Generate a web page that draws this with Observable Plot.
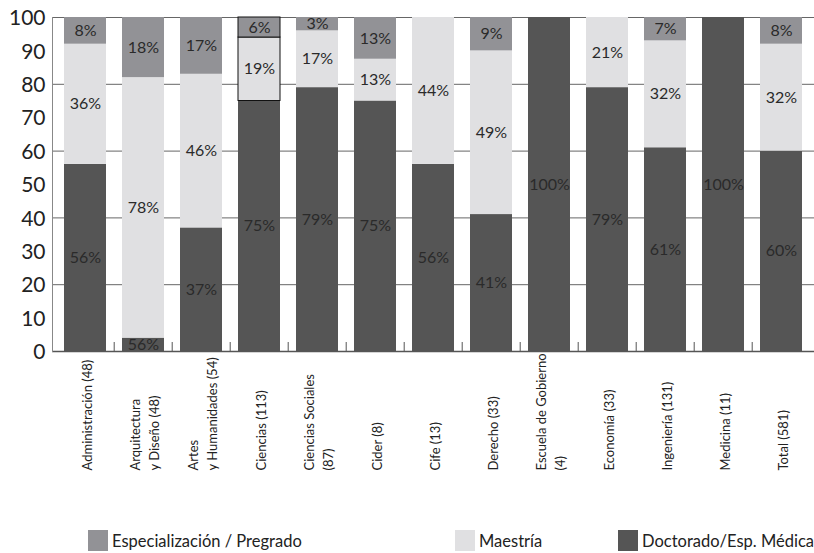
<!DOCTYPE html>
<html>
<head>
<meta charset="utf-8">
<script src="https://cdn.jsdelivr.net/npm/d3@7"></script>
<script src="https://cdn.jsdelivr.net/npm/@observablehq/plot@0.6"></script>
<style>
  body { margin: 0; background: #fff; font-family: Lato, "Open Sans", sans-serif; }
  #chart { position: relative; width: 814px; height: 553px; }
  #legend { position: relative; width: 814px; height: 38px; font-size: 16.5px; color: #222; }
  .item { position: absolute; top: 15px; display: flex; align-items: center; white-space: nowrap; }
  .sw { width: 20px; height: 21px; margin-right: 4px; flex: none; }
</style>
</head>
<body>
<div id="chart"></div>
<script>
const categorias = ["Administración (48)", "Arquitectura\ny Diseño (48)", "Artes\ny Humanidades (54)", "Ciencias (113)", "Ciencias Sociales\n(87)", "Cider (8)", "Cife (13)", "Derecho (33)", "Escuela de Gobierno\n(4)", "Economía (33)", "Ingeniería (131)", "Medicina (11)", "Total (581)"];
const series = ["Doctorado/Esp. Médica", "Maestría", "Especialización / Pregrado"];
const colores = ["#555555", "#e0e0e2", "#929296"];
const doctorado = [56, 4, 37, 75, 79, 75, 56, 41, 100, 79, 61, 100, 60];
const maestria = [36, 78, 46, 19, 17, 12.5, 44, 49, 0, 21, 32, 0, 32];
const especializacion = [8, 18, 17, 6, 4, 12.5, 0, 10, 0, 0, 7, 0, 8];
const etiquetasDoctorado = ["56%", "56%", "37%", "75%", "79%", "75%", "56%", "41%", "100%", "79%", "61%", "100%", "60%"];
const etiquetasMaestria = ["36%", "78%", "46%", "19%", "17%", "13%", "44%", "49%", "", "21%", "32%", "", "32%"];
const etiquetasEspecializacion = ["8%", "18%", "17%", "6%", "3%", "13%", "", "9%", "", "", "7%", "", "8%"];
const ticksY = [0, 10, 20, 30, 40, 50, 60, 70, 80, 90, 100];
const gridY = [20, 40, 60, 80, 100];

const valores = [doctorado, maestria, especializacion];
const etiquetas = [etiquetasDoctorado, etiquetasMaestria, etiquetasEspecializacion];
const datos = [];
series.forEach((s, si) => {
  categorias.forEach((c, ci) => {
    datos.push({categoria: c, serie: s, valor: valores[si][ci], etiqueta: etiquetas[si][ci], resaltado: c === "Ciencias (113)" && si > 0});
  });
});

const W = 814, H = 515, mL = 52, mR = 0, mT = 17, mB = 164;
const paso = (W - mL - mR) / categorias.length;
const plotH = H - mT - mB;

const chart = Plot.plot({
  width: W, height: H,
  marginLeft: mL, marginRight: mR, marginTop: mT, marginBottom: mB,
  style: {fontFamily: "Lato, 'Open Sans', sans-serif", color: "#222", background: "#fff"},
  x: {domain: categorias, paddingInner: 0.27, paddingOuter: 0.135, axis: null},
  y: {domain: [0, 100], axis: null},
  color: {domain: series, range: colores},
  marks: [
    Plot.gridY(gridY, {stroke: "#666", strokeOpacity: 1, strokeWidth: 1}),
    Plot.barY(datos, {x: "categoria", y: "valor", fill: "serie", order: series,
      stroke: d => d.resaltado ? "#111" : "none", strokeWidth: 1}),
    Plot.text(datos.filter(d => d.etiqueta !== ""), Plot.stackY({x: "categoria", y: "valor", z: "serie", order: series,
      text: "etiqueta", fill: "#2a2a2a", fontSize: 16})),
    Plot.ruleY([0], {stroke: "#555", strokeWidth: 1.5}),
    Plot.ruleX(categorias.slice(1), {x: d => d, dx: -paso / 2, insetTop: plotH - 9, stroke: "#555"}),
    Plot.frame({anchor: "left", stroke: "#888"}),
    Plot.text(ticksY, {y: d => d, text: d => String(d), frameAnchor: "left", textAnchor: "end", dx: -7, dy: 1, fontSize: 21, fill: "#222"}),
    Plot.text(categorias, {x: d => d, text: d => d, frameAnchor: "bottom", rotate: -90, textAnchor: "start", lineAnchor: "middle", dy: 119, fontSize: 13, lineHeight: 1.45, fill: "#222"})
  ]
});
const cont = document.getElementById("chart");
cont.appendChild(chart);

const legend = document.createElement("div");
legend.id = "legend";
const posiciones = [88, 455, 618];
[2, 1, 0].forEach((si, k) => {
  const it = document.createElement("div");
  it.className = "item";
  it.style.left = posiciones[k] + "px";
  const sw = document.createElement("span");
  sw.className = "sw";
  sw.style.background = colores[si];
  const tx = document.createElement("span");
  tx.textContent = series[si];
  it.appendChild(sw); it.appendChild(tx);
  legend.appendChild(it);
});
cont.appendChild(legend);
</script>
</body>
</html>
